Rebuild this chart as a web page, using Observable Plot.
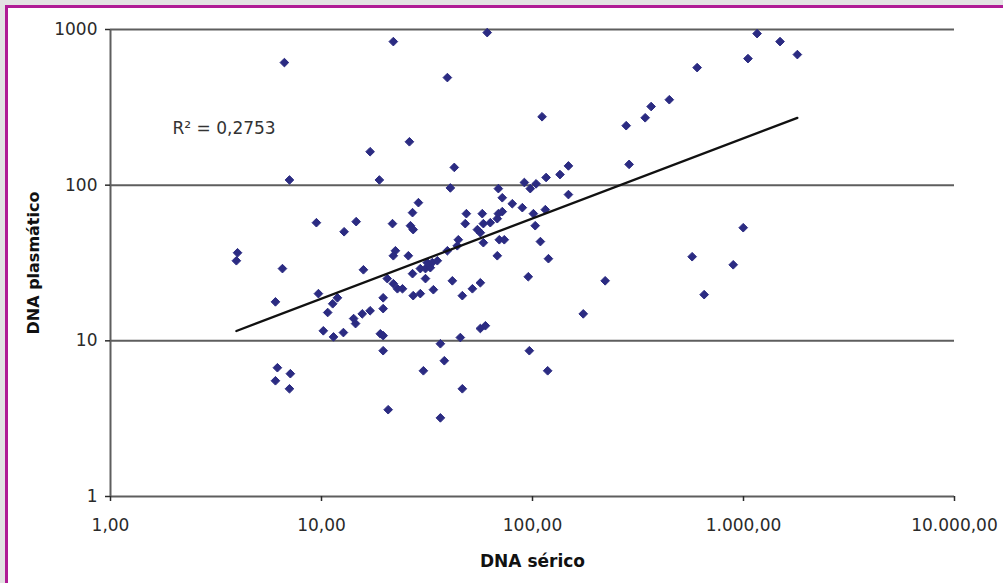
<!DOCTYPE html>
<html>
<head>
<meta charset="utf-8">
<script src="https://cdn.jsdelivr.net/npm/d3@7"></script>
<script src="https://cdn.jsdelivr.net/npm/@observablehq/plot@0.6"></script>
<style>
html, body { margin:0; padding:0; width:1003px; height:583px; overflow:hidden; background:#e3e3e3; }
#frame { position:absolute; left:5px; top:5px; width:1010px; height:640px; box-sizing:border-box; border:3px solid #b01c95; background:#fff; }
#chart { position:absolute; left:0; top:0; }
</style>
</head>
<body>
<div id="frame"></div>
<div id="chart"></div>
<script>
// DNA sérico (x) and DNA plasmático (y) values
const dnaSerico = [
  21.9, 61, 39.5, 111, 278, 17.0, 26.1, 42.6, 18.8, 40.8,
  287, 68.9, 148, 135, 116, 91.5, 97.6, 104, 148, 1160,
  1490, 1800, 1050, 603, 445, 365, 342, 6.67, 7.05, 71.9,
  80.2, 89.5,
  9.46, 12.8, 4.0, 3.95, 6.53, 9.67, 11.9, 6.05, 14.6, 21.7,
  28.8, 27.0, 26.4, 27.2, 22.4, 21.9, 25.8, 15.8, 20.5, 21.9,
  22.9, 24.2, 19.6, 27.0, 27.2, 29.4, 31.1, 29.4, 31.1, 32.8,
  31.7, 33.5, 35.4, 33.9, 39.5, 41.7, 44.5, 44.0, 48.0, 48.6,
  57.8, 58.5, 54.8, 56.6, 58.5, 63.1, 68.1, 68.9, 71.9, 69.6,
  73.5, 68.1, 46.5, 51.9, 56.6, 95.5, 101, 103, 109, 119,
  115, 221, 571, 651, 894, 997,
  6.18, 6.05, 7.12, 7.05, 10.2, 11.4, 12.7, 10.7, 11.3, 14.2,
  14.5, 15.6, 17.0, 19.6, 19.0, 19.6, 19.6, 30.4, 36.6, 38.2,
  20.7, 36.6, 46.5, 45.5, 56.6, 59.8, 96.6, 118, 174
];
const dnaPlasmatico = [
  836, 955, 491, 275, 241, 164, 190, 130, 108, 96,
  136, 95, 133, 117, 112, 104, 95, 102, 87, 941,
  836, 690, 650, 569, 354, 320, 271, 613, 108, 83,
  76, 71.7,
  57.4, 50.2, 36.8, 32.7, 29.1, 20.1, 18.9, 17.8, 58.3, 56.6,
  77.2, 66.6, 54.9, 51.8, 37.9, 35.2, 35.2, 28.6, 25.1, 23.3,
  21.6, 21.6, 18.9, 27.0, 19.5, 20.1, 25.1, 29.1, 29.1, 29.5,
  31.8, 31.8, 32.7, 21.3, 37.9, 24.3, 44.6, 40.8, 56.6, 65.6,
  65.6, 56.6, 51.8, 49.5, 42.7, 57.4, 60.9, 65.6, 67.6, 44.6,
  44.6, 35.2, 19.5, 21.6, 23.6, 25.8, 65.6, 54.9, 43.4, 33.7,
  69.6, 24.3, 34.7, 19.8, 30.8, 53.3,
  6.72, 5.54, 6.15, 4.92, 11.6, 10.6, 11.3, 15.2, 17.3, 13.9,
  12.9, 14.9, 15.6, 16.1, 11.1, 10.8, 8.64, 6.42, 9.58, 7.45,
  3.61, 3.20, 4.92, 10.5, 12.0, 12.5, 8.64, 6.42, 14.9
];

// Power trendline (y = a·x^b) as shown on the chart
const trendA = 5.7;
const trendB = 0.515;
const r2Label = "R² = 0,2753";

const xTicks = [1, 10, 100, 1000, 10000];
const xTickLabels = ["1,00", "10,00", "100,00", "1.000,00", "10.000,00"];
const yTicks = [1, 10, 100, 1000];
const yTickLabels = ["1", "10", "100", "1000"];
const yGrid = [10, 100, 1000];

const xTitle = "DNA sérico";
const yTitle = "DNA plasmático";

const data = dnaSerico.map((x, i) => ({x, y: dnaPlasmatico[i]}));
const trend = d3.extent(dnaSerico).map(x => ({x, y: trendA * Math.pow(x, trendB)}));

const chart = Plot.plot({
  width: 1003,
  height: 583,
  marginLeft: 110,
  marginRight: 49,
  marginTop: 29,
  marginBottom: 87,
  style: {fontFamily: "'DejaVu Sans', sans-serif", background: "transparent", overflow: "visible"},
  x: {type: "log", domain: [1, 10000]},
  y: {type: "log", domain: [1, 1000]},
  marks: [
    Plot.ruleY(yGrid, {stroke: "#5e5e5e", strokeWidth: 2}),
    Plot.ruleY([1], {stroke: "#5e5e5e", strokeWidth: 2}),
    Plot.ruleX([1], {stroke: "#5e5e5e", strokeWidth: 2}),
    Plot.axisX(xTicks, {
      tickFormat: d => xTickLabels[xTicks.indexOf(d)],
      tickSize: 5, tickPadding: 17, label: null,
      fontSize: 17, color: "#2a2a2a", strokeWidth: 1.5
    }),
    Plot.axisY(yTicks, {
      tickFormat: d => yTickLabels[yTicks.indexOf(d)],
      tickSize: 5, tickPadding: 8, label: null,
      fontSize: 17, color: "#2a2a2a", strokeWidth: 1.5
    }),
    Plot.dot(data, {x: "x", y: "y", symbol: "diamond2", r: 3.9, fill: "#2b2b82", stroke: "#2b2b82", strokeWidth: 1, strokeLinejoin: "round"}),
    Plot.line(trend, {x: "x", y: "y", stroke: "#111", strokeWidth: 2.3}),
    Plot.text([r2Label], {frameAnchor: "top-left", dx: 62, dy: 99, textAnchor: "start", lineAnchor: "middle", fontSize: 17, fill: "#333"}),
    Plot.text([xTitle], {frameAnchor: "bottom", dy: 65, textAnchor: "middle", lineAnchor: "middle", fontSize: 17, fontWeight: "bold", fill: "#111"}),
    Plot.text([yTitle], {frameAnchor: "left", dx: -77, rotate: -90, textAnchor: "middle", lineAnchor: "middle", fontSize: 16, fontWeight: "bold", fill: "#111"})
  ]
});
document.getElementById("chart").appendChild(chart);
</script>
</body>
</html>
